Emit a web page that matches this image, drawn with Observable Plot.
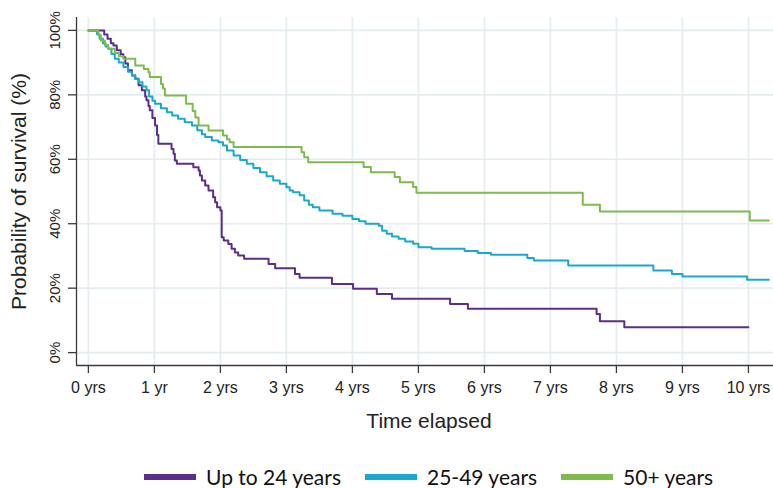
<!DOCTYPE html>
<html>
<head>
<meta charset="utf-8">
<script src="https://cdn.jsdelivr.net/npm/d3@7"></script>
<script src="https://cdn.jsdelivr.net/npm/@observablehq/plot@0.6"></script>
<style>
  body { margin: 0; background: #fff; }
  #wrap { position: relative; width: 773px; height: 488px; overflow: hidden; }
  #chart svg text { font-family: "Liberation Sans", Arimo, Arial, Helvetica, sans-serif !important; }
  #legend { position: absolute; left: 144px; top: 464px; display: flex; align-items: center;
            font-family: Lato, "Open Sans", sans-serif; font-size: 21px; color: #111; }
  .item { display: flex; align-items: center; margin-right: 24px; }
  .sw { width: 52px; height: 6px; margin-right: 10px; }
</style>
</head>
<body>
<div id="wrap"><div id="chart"></div><div id="legend"></div></div>
<script>
// ---- data ----
const groups = ["Up to 24 years", "25-49 years", "50+ years"];
const colors = ["#5c2d89", "#19a9cf", "#7dbb4f"];

const upTo24T = [0,0.24,0.29,0.34,0.38,0.43,0.49,0.53,0.56,0.60,0.66,0.71,0.76,0.81,0.86,0.88,0.91,0.93,0.97,1.01,1.04,1.06,1.26,1.29,1.31,1.34,1.59,1.67,1.69,1.72,1.77,1.82,1.89,1.92,1.95,2.00,2.02,2.05,2.12,2.17,2.22,2.27,2.36,2.73,2.83,3.13,3.20,3.69,4.01,4.37,4.60,5.48,5.75,7.70,7.75,8.12,10.0];
const upTo24S = [100,98.7,97.4,96,95.3,93.8,92.6,91.7,89.7,87.6,86,85,83,81.4,79.5,78.3,76.5,75.2,72.8,70.5,67.5,64.8,63.2,61.7,59.6,58.6,57.5,56.5,55,53.4,51.9,50.3,48.2,46.7,45.1,44.1,35.8,34.8,33.7,32.2,31.1,30.1,29.1,27.5,26.2,24.4,23.2,21.3,19.8,18.2,16.7,15.1,13.6,12,9.7,7.9,7.9];

const mid25T = [0,0.13,0.17,0.22,0.26,0.30,0.35,0.40,0.46,0.53,0.60,0.66,0.71,0.76,0.82,0.88,0.92,0.97,1.01,1.10,1.19,1.27,1.36,1.46,1.57,1.65,1.72,1.77,1.87,1.97,2.04,2.10,2.20,2.30,2.40,2.50,2.60,2.70,2.80,2.90,3.00,3.05,3.10,3.20,3.27,3.34,3.40,3.50,3.70,3.85,4.00,4.10,4.20,4.40,4.45,4.52,4.60,4.70,4.80,4.92,5.00,5.20,5.70,5.90,6.10,6.65,6.75,7.27,8.56,8.84,9.00,9.98,10.31];
const mid25S = [100,98.8,97.4,96,95,94.3,92.7,91.2,90,88.6,87.2,86,85,83.9,82.6,81.4,79.5,78.2,77.2,75.8,74.6,73.6,72.6,71.5,70.5,69,67.8,66.9,65.8,65.3,64.3,62.7,61.2,59.8,58.6,57.3,56,54.7,53.4,52.4,51.3,50.3,49.8,48.8,47.2,45.9,45.1,44.1,43.1,42.5,41.5,40.8,40,39.4,37.8,36.9,36,35.3,34.5,33.8,32.7,32.2,31.5,30.9,30.4,29.4,28.6,27,25.5,24.4,23.6,22.6,22.6];

const over50T = [0,0.15,0.19,0.25,0.30,0.40,0.46,0.53,0.71,0.84,0.91,0.93,1.10,1.13,1.16,1.48,1.58,1.62,1.67,1.82,2.04,2.10,2.14,2.20,3.23,3.27,3.33,4.17,4.28,4.64,4.72,4.92,4.97,7.49,7.75,10.02,10.31];
const over50S = [100,98.5,96.9,95.5,94.3,93,92,91.2,89.1,88,87,85.5,83.4,82,79.8,77.2,75,73,70.5,68.9,67.4,66.2,65.3,63.8,62.2,60.6,59.1,57.6,56,54.5,52.9,51.4,49.6,45.9,43.8,41,41];

const xTicks = [0,1,2,3,4,5,6,7,8,9,10];
const xTickLabels = ["0 yrs","1 yr","2 yrs","3 yrs","4 yrs","5 yrs","6 yrs","7 yrs","8 yrs","9 yrs","10 yrs"];
const yTicks = [0,20,40,60,80,100];
const xTitle = "Time elapsed";
const yTitle = "Probability of survival (%)";

// ---- build ----
const series = [[upTo24T, upTo24S], [mid25T, mid25S], [over50T, over50S]];
const rows = series.flatMap(([T, S], g) => T.map((t, i) => ({group: groups[g], t, s: S[i]})));
const xDomain = [-0.18, 10.38];
const yDomain = [-4, 104];
const xLabel = new Map(xTicks.map((d, i) => [d, xTickLabels[i]]));
const font = "Liberation Sans, Arimo, Arial, Helvetica, sans-serif";
const grid = "#e5ecef";
const axisCol = "#3a3a3a";

const chart = Plot.plot({
  width: 773, height: 445,
  marginLeft: 76, marginRight: 0, marginTop: 17, marginBottom: 80,
  x: {domain: xDomain},
  y: {domain: yDomain},
  color: {domain: groups, range: colors},
  style: {fontFamily: font, color: "#222", background: "#fff"},
  marks: [
    Plot.gridX(xTicks, {stroke: grid, strokeOpacity: 1, strokeWidth: 1.6}),
    Plot.gridY(yTicks, {stroke: grid, strokeOpacity: 1, strokeWidth: 1.6}),
    Plot.line(rows, {x: "t", y: "s", z: "group", stroke: "group", curve: "step-after", strokeWidth: 2}),
    Plot.ruleX([xDomain[0]], {stroke: axisCol, strokeWidth: 1.3}),
    Plot.ruleY([yDomain[0]], {stroke: axisCol, strokeWidth: 1.3}),
    Plot.axisX(xTicks, {tickSize: 8, tickPadding: 8, tickFormat: d => xLabel.get(d), fontSize: 16, fontFamily: font, stroke: axisCol, strokeWidth: 1.3, label: null}),
    Plot.axisY(yTicks, {tickSize: 8, tickFormat: () => "", stroke: axisCol, strokeWidth: 1.3, label: null}),
    Plot.text(yTicks, {y: d => d, text: d => d + "%", frameAnchor: "left", dx: -21, rotate: -90, textAnchor: "middle", lineAnchor: "middle", fontSize: 15, fontFamily: font, fill: "#222"}),
    Plot.text([xTitle], {frameAnchor: "bottom", dy: 56, dx: 4, textAnchor: "middle", lineAnchor: "middle", fontSize: 21, fontFamily: font, fill: "#222"}),
    Plot.text([yTitle], {frameAnchor: "left", dx: -57, rotate: -90, textAnchor: "middle", lineAnchor: "middle", fontSize: 21, fontFamily: font, fill: "#222"})
  ]
});
document.getElementById("chart").appendChild(chart);

const legend = document.getElementById("legend");
groups.forEach((g, i) => {
  const it = document.createElement("div");
  it.className = "item";
  const sw = document.createElement("div");
  sw.className = "sw";
  sw.style.background = colors[i];
  const tx = document.createElement("span");
  tx.textContent = g;
  it.appendChild(sw); it.appendChild(tx);
  legend.appendChild(it);
});
</script>
</body>
</html>
